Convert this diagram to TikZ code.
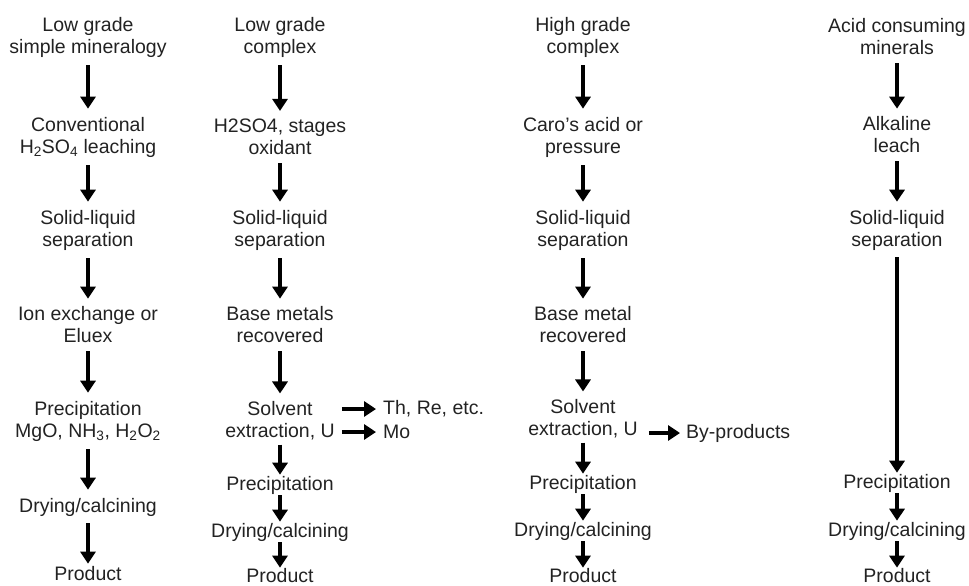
\documentclass[tikz,border=0pt]{standalone}
\usepackage{fontspec}
\setmainfont{Liberation Sans}
\usepackage{xcolor}
\usetikzlibrary{arrows.meta, positioning}

\definecolor{ink}{HTML}{222222}

\begin{document}
\begin{tikzpicture}[
  x=1pt, y=-1pt,
  node distance=95pt, on grid,
  stage/.style={align=center, inner sep=1pt, text=ink, font=\fontsize{19.5}{22}\selectfont},
  output/.style={stage, anchor=west},
  arrow/.style={line width=3.6pt, -{Triangle[width=15pt,length=12pt]}},
  longarrow/.style={arrow, shorten <=7pt, shorten >=7pt}
]
\useasboundingbox (0,0) rectangle (969,586);

% low grade, simple mineralogy
\node (lg1) [stage] at (88,37) {Low grade\\simple mineralogy};
\node (cv) [stage, below=100pt of lg1] {Conventional\\H\textsubscript{2}SO\textsubscript{4} leaching};
\node (sl1) [stage, below=93pt of cv] {Solid-liquid\\separation};
\node (ix) [stage, below=95pt of sl1] {Ion exchange or\\Eluex};
\node (pr1) [stage, below=96pt of ix] {Precipitation\\MgO, NH\textsubscript{3}, H\textsubscript{2}O\textsubscript{2}};
\node (dc1) [stage, below=86pt of pr1] {Drying/calcining};
\node (pd1) [stage, below=67pt of dc1] {Product};

% low grade, complex
\node (lg2) [stage, right=192pt of lg1] {Low grade\\complex};
\node (hs) [stage, below=100pt of lg2] {H2SO4, stages\\oxidant};
\node (sl2) [stage, below=93pt of hs] {Solid-liquid\\separation};
\node (bm2) [stage, below=95pt of sl2] {Base metals\\recovered};
\node (sx2) [stage, below=96pt of bm2] {Solvent\\extraction, U};
\node (pr2) [stage, below=64pt of sx2] {Precipitation};
\node (dc2) [stage, below=47pt of pr2] {Drying/calcining};
\node (pd2) [stage, below=44pt of dc2] {Product};
\node (th) [output] at (382,409) {Th, Re, etc.};
\node (mo) [output] at (382,432) {Mo};

% high grade, complex
\node (lg3) [stage, right=303pt of lg2] {High grade\\complex};
\node (ca) [stage, below=100pt of lg3] {Caro's acid or\\pressure};
\node (sl3) [stage, below=93pt of ca] {Solid-liquid\\separation};
\node (bm3) [stage, below=95pt of sl3] {Base metal\\recovered};
\node (sx3) [stage, below=94pt of bm3] {Solvent\\extraction, U};
\node (pr3) [stage, below=65pt of sx3] {Precipitation};
\node (dc3) [stage, below=47pt of pr3] {Drying/calcining};
\node (pd3) [stage, below=45pt of dc3] {Product};
\node (bp) [output] at (685,433) {By-products};

% acid consuming minerals
\node (lg4) [stage, right=314pt of lg3] {Acid consuming\\minerals};
\node (al) [stage, below=98pt of lg4] {Alkaline\\leach};
\node (sl4) [stage, below=95pt of al] {Solid-liquid\\separation};
\node (pr4) [stage, below=253pt of sl4] {Precipitation};
\node (dc4) [stage, below=48pt of pr4] {Drying/calcining};
\node (pd4) [stage, below=45pt of dc4] {Product};

\draw [longarrow] (lg1) -- (cv);
\draw [longarrow] (cv) -- (sl1);
\draw [longarrow] (sl1) -- (ix);
\draw [longarrow] (ix) -- (pr1);
\draw [longarrow] (pr1) -- (dc1);
\draw [arrow, shorten <=6pt, shorten >=2pt] (dc1) -- (pd1);

\draw [longarrow] (lg2) -- (hs);
\draw [longarrow] (hs) -- (sl2);
\draw [longarrow] (sl2) -- (bm2);
\draw [longarrow] (bm2) -- (sx2);
\draw [arrow, shorten <=3pt] (sx2) -- (pr2);
\draw [arrow] (pr2) -- (dc2);
\draw [arrow] (dc2) -- (pd2);
\draw [arrow, shorten <=6pt, shorten >=6pt] (sx2.east |- th) -- (th);
\draw [arrow, shorten <=6pt, shorten >=6pt] (sx2.east |- mo) -- (mo);

\draw [longarrow] (lg3) -- (ca);
\draw [longarrow] (ca) -- (sl3);
\draw [longarrow] (sl3) -- (bm3);
\draw [longarrow] (bm3) -- (sx3);
\draw [arrow, shorten <=3pt] (sx3) -- (pr3);
\draw [arrow] (pr3) -- (dc3);
\draw [arrow] (dc3) -- (pd3);
\draw [arrow, shorten <=10pt, shorten >=5pt] (sx3.east |- bp) -- (bp);

\draw [longarrow] (lg4) -- (al);
\draw [longarrow] (al) -- (sl4);
\draw [arrow, shorten <=6pt] (sl4) -- (pr4);
\draw [arrow] (pr4) -- (dc4);
\draw [arrow] (dc4) -- (pd4);

\end{tikzpicture}
\end{document}
